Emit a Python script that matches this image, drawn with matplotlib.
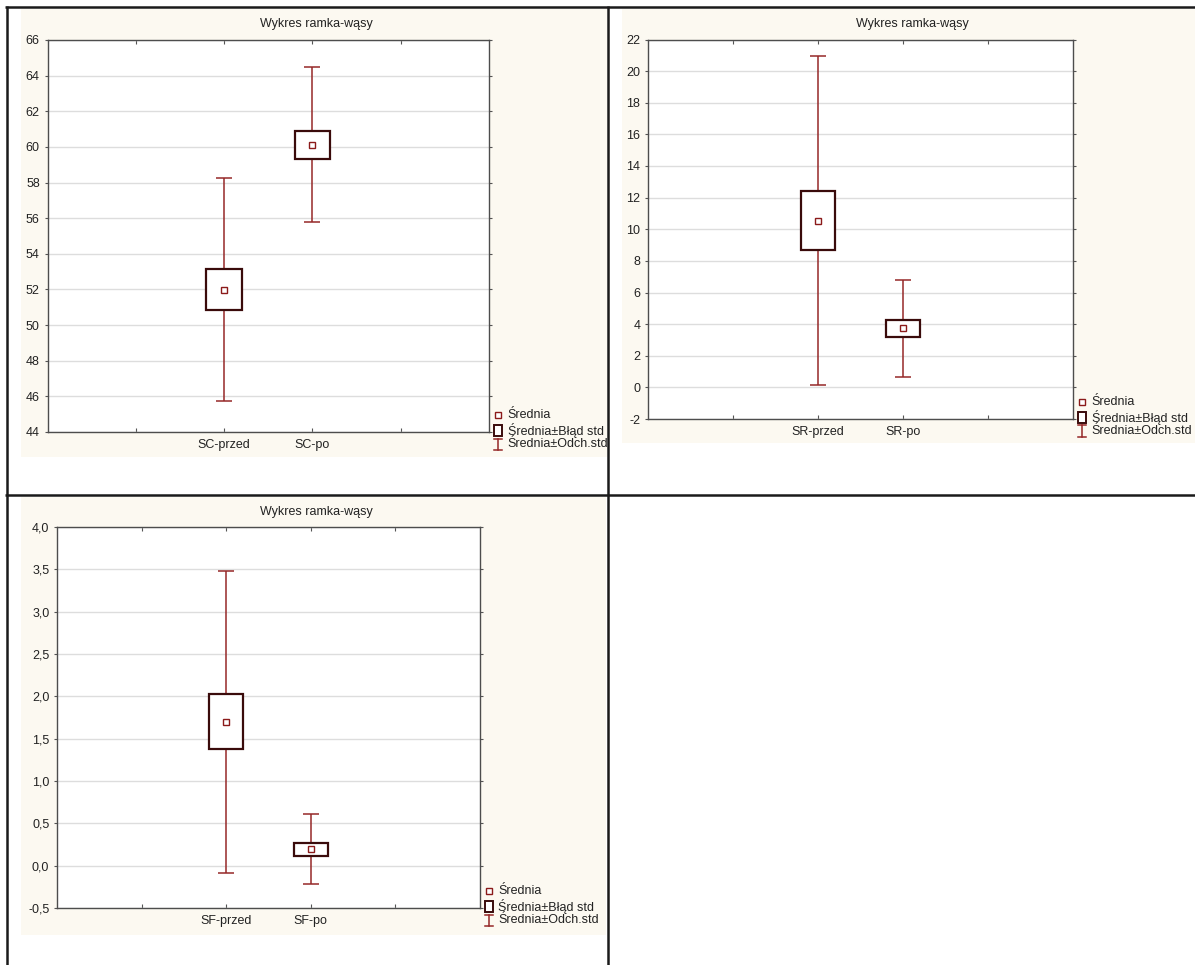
import matplotlib
matplotlib.use("Agg")
import matplotlib.pyplot as plt
from matplotlib.lines import Line2D
from matplotlib.patches import Rectangle

plt.rcParams['font.family'] = ['Liberation Sans', 'DejaVu Sans']
plt.rcParams['axes.unicode_minus'] = False

# ---- data: mean, standard error, standard deviation ----
sc_labels = ['SC-przed', 'SC-po']
sc_mean = [51.98, 60.11]
sc_se = [1.14, 0.77]
sc_sd = [6.25, 4.35]

sr_labels = ['SR-przed', 'SR-po']
sr_mean = [10.54, 3.73]
sr_se = [1.88, 0.56]
sr_sd = [10.39, 3.09]

sf_labels = ['SF-przed', 'SF-po']
sf_mean = [1.70, 0.196]
sf_se = [0.323, 0.077]
sf_sd = [1.785, 0.41]

sc_yticks = list(range(44, 67, 2))
sr_yticks = list(range(-2, 23, 2))
sf_yticks = [-0.5, 0.0, 0.5, 1.0, 1.5, 2.0, 2.5, 3.0, 3.5, 4.0]

title_text = 'Wykres ramka-wąsy'
legend_labels = ['Średnia', 'Średnia±Błąd std', 'Średnia±Odch.std']

# ---- styling ----
W, H = 1195, 965
CREAM = '#fcf9f1'
BOX_EDGE = '#3a0b0b'
WHISK = '#962828'
MEAN_C = '#8b1a1a'
TEXT_C = '#222222'
FS = 9

fig = plt.figure(figsize=(W / 100, H / 100), dpi=100)
fig.patch.set_facecolor('white')


def fx(x):
    return x / W


def fy(y):
    return 1 - y / H


def add_line(x0, y0, x1, y1, **kw):
    fig.add_artist(Line2D([fx(x0), fx(x1)], [fy(y0), fy(y1)],
                          transform=fig.transFigure, **kw))


def panel(cream, plot, values, labels, yticks, fmt, title_x):
    cx0, cy0, cx1, cy1 = cream
    fig.add_artist(Rectangle((fx(cx0), fy(cy1)), fx(cx1 - cx0), (cy1 - cy0) / H,
                             transform=fig.transFigure, facecolor=CREAM,
                             edgecolor='none', zorder=-5))
    px0, py0, px1, py1 = plot
    ax = fig.add_axes([fx(px0), fy(py1), fx(px1 - px0), (py1 - py0) / H])
    ax.set_facecolor('white')
    mean, se, sd = values
    x = [2, 3]
    ax.errorbar(x, mean, yerr=sd, fmt='none', ecolor=WHISK, elinewidth=1.1,
                capsize=6.1, capthick=1.1, zorder=2)
    ax.bar(x, [2 * s for s in se], bottom=[m - s for m, s in zip(mean, se)],
           width=0.4, facecolor='white', edgecolor=BOX_EDGE, linewidth=1.6,
           zorder=3)
    ax.plot(x, mean, linestyle='none', marker='s', markersize=4.5,
            markerfacecolor='white', markeredgecolor=MEAN_C,
            markeredgewidth=1.0, zorder=4)
    ax.set_xlim(0, 5)
    ax.set_ylim(yticks[0], yticks[-1])
    ax.set_xticks([1, 2, 3, 4], ['', labels[0], labels[1], ''])
    ax.set_yticks(yticks, [fmt(v) for v in yticks])
    ax.tick_params(axis='x', direction='in', top=True, length=3, width=0.8,
                   color='#555555', pad=5, labelsize=FS, labelcolor=TEXT_C)
    ax.tick_params(axis='y', direction='out', right=True, length=2.5, width=0.8,
                   color='#555555', pad=3, labelsize=FS, labelcolor=TEXT_C)
    ax.grid(axis='y', color='#dddddd', linewidth=1.0)
    ax.set_axisbelow(True)
    for s in ax.spines.values():
        s.set_color('#4d4d4d')
        s.set_linewidth(1.0)
    fig.text(fx(title_x), fy(cy0 + 15), title_text, ha='center', va='center',
             fontsize=FS, color=TEXT_C)

    # legend drawn beside the plot frame
    mx = px1 + 9
    tx = mx + 9.5
    rows = [py1 - 17, py1 - 2, py1 + 12]
    fig.add_artist(Line2D([fx(mx)], [fy(rows[0])], transform=fig.transFigure,
                          marker='s', markersize=4.5, markerfacecolor='white',
                          markeredgecolor=MEAN_C, markeredgewidth=1.0,
                          linestyle='none'))
    fig.add_artist(Rectangle((fx(mx - 4.2), fy(rows[1] + 5.5)), 8.5 / W, 11 / H,
                             transform=fig.transFigure, facecolor='white',
                             edgecolor=BOX_EDGE, linewidth=1.4))
    add_line(mx, rows[2] - 5.5, mx, rows[2] + 5.5, color=WHISK, linewidth=1.1)
    add_line(mx - 4, rows[2] - 5.5, mx + 4, rows[2] - 5.5, color=WHISK, linewidth=1.1)
    add_line(mx - 4, rows[2] + 5.5, mx + 4, rows[2] + 5.5, color=WHISK, linewidth=1.1)
    for r, lab in zip(rows, legend_labels):
        fig.text(fx(tx), fy(r), lab, ha='left', va='center', fontsize=FS,
                 color=TEXT_C)
    return ax


def int_fmt(v):
    return f'{v:d}'


def comma_fmt(v):
    return f'{v:.1f}'.replace('.', ',')


panel((21, 9, 607, 457), (47.5, 40, 489, 432), (sc_mean, sc_se, sc_sd),
      sc_labels, sc_yticks, int_fmt, 316)
panel((622, 9, 1195, 443), (648, 39.5, 1073, 419), (sr_mean, sr_se, sr_sd),
      sr_labels, sr_yticks, int_fmt, 912)
panel((21, 497, 606, 935), (57, 527, 480, 908), (sf_mean, sf_se, sf_sd),
      sf_labels, sf_yticks, comma_fmt, 316)

# table rules around the panels
RULE = dict(color='#1a1a1a', linewidth=1.8, zorder=10, solid_capstyle='butt')
add_line(5, 7, 1195, 7, **RULE)
add_line(7, 6, 7, 965, **RULE)
add_line(608, 6, 608, 965, **RULE)
add_line(5, 495, 1195, 495, **RULE)

fig.savefig('out.png', dpi=100, facecolor='white')
